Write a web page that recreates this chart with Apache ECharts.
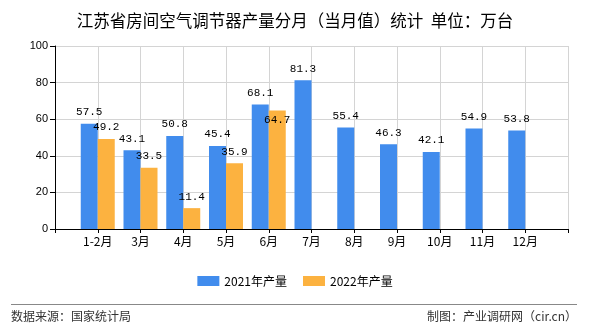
<!DOCTYPE html>
<html><head><meta charset="utf-8">
<script src="https://cdn.jsdelivr.net/npm/echarts@6/dist/echarts.min.js"></script>
<style>html,body{margin:0;padding:0;background:#fff}#c{width:590px;height:330px}</style>
</head><body><div id="c"></div>
<script>
const categories = ['1-2月','3月','4月','5月','6月','7月','8月','9月','10月','11月','12月'];
const series2021 = [57.5,43.1,50.8,45.4,68.1,81.3,55.4,46.3,42.1,54.9,53.8];
const series2022 = [49.2,33.5,11.4,35.9,64.7];
const seriesNames = ['2021年产量','2022年产量'];
const yTicks = [0,20,40,60,80,100];

const axisData = [''].concat(categories, ['']);
function pad(arr){ const out=[null]; for(let i=0;i<categories.length;i++) out.push(i<arr.length?arr[i]:null); out.push(null); return out; }

const chart = echarts.init(document.getElementById('c'), null, {renderer:'canvas'});
const lbl = {show:true, position:'top', distance:6, color:'#000', fontSize:11, fontFamily:'Liberation Mono, monospace'};
chart.setOption({
  animation:false,
  title:{text:'江苏省房间空气调节器产量分月（当月值）统计  单位：万台', left:'center', top:7,
    textStyle:{fontSize:16.5, fontWeight:'normal', color:'#000', fontFamily:'Noto Sans CJK SC'}},
  legend:{data:seriesNames, left:'center', top:270, itemWidth:22, itemHeight:10, itemGap:16,
    icon:'rect', textStyle:{fontSize:12, color:'#000', fontFamily:'Noto Sans CJK SC'}},
  grid:{left:55, right:22, top:46, bottom:101},
  xAxis:{type:'category', data:axisData, boundaryGap:false,
    axisLine:{lineStyle:{color:'#000'}}, axisTick:{length:4, lineStyle:{color:'#000'}, interval:0},
    axisLabel:{color:'#000', fontSize:12, interval:0, margin:6, fontFamily:'Noto Sans CJK SC'},
    splitLine:{show:true, lineStyle:{color:'#d4d4d4'}}},
  yAxis:{type:'value', min:yTicks[0], max:yTicks[yTicks.length-1], interval:20,
    axisLine:{show:true, lineStyle:{color:'#000'}}, axisTick:{show:true, length:5, lineStyle:{color:'#000'}},
    axisLabel:{color:'#000', fontSize:11, margin:7, fontFamily:'Liberation Sans'},
    splitLine:{lineStyle:{color:'#d4d4d4'}}},
  series:[
    {name:seriesNames[0], type:'bar', data:pad(series2021), barWidth:17, barGap:'0%', itemStyle:{color:'#418ced'}, label:lbl},
    {name:seriesNames[1], type:'bar', data:pad(series2022), barWidth:17, barGap:'0%', itemStyle:{color:'#fcb240'}, label:lbl,
     labelLayout:function(p){
       const i = p.dataIndex - 1;
       if (i >= 0 && i < series2022.length && series2021[i] - series2022[i] < 5) return {dy:21};
       return {};
     }}
  ],
  graphic:[
    {type:'line', shape:{x1:11,y1:304.5,x2:577,y2:304.5}, style:{stroke:'#888', lineWidth:1}},
    {type:'text', left:11, top:310, style:{text:'数据来源：国家统计局', fontSize:12, fill:'#333', fontFamily:'Noto Sans CJK SC'}},
    {type:'text', right:13, top:310, style:{text:'制图：产业调研网（cir.cn）', fontSize:12, fill:'#333', fontFamily:'Noto Sans CJK SC'}}
  ]
});
</script></body></html>
